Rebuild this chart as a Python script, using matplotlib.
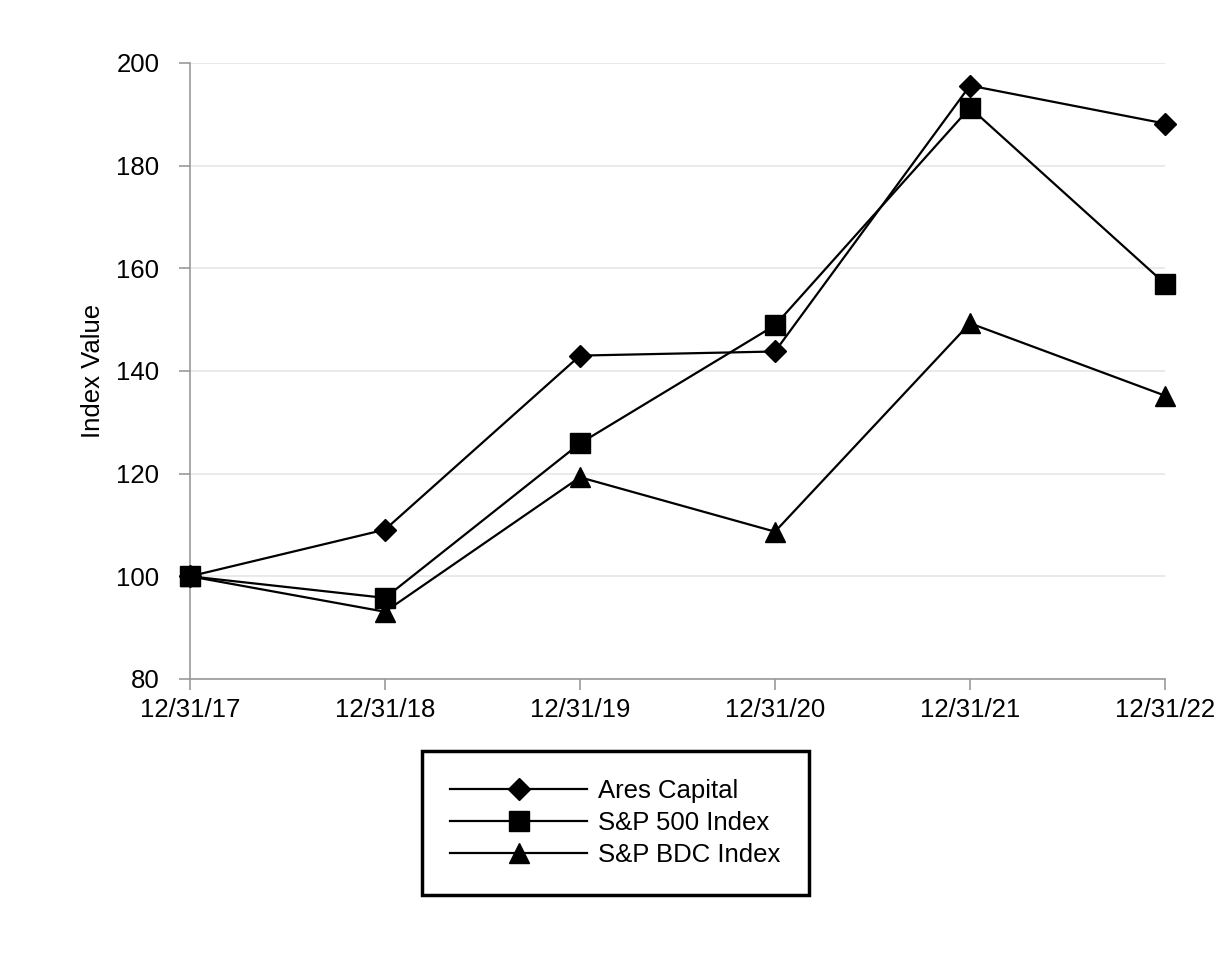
import matplotlib
matplotlib.use("Agg")
import matplotlib.pyplot as plt

plt.rcParams['font.family'] = ['Liberation Sans', 'DejaVu Sans']

fechas = ['12/31/17', '12/31/18', '12/31/19', '12/31/20', '12/31/21', '12/31/22']
ares = [100.0, 109.1, 143.0, 143.8, 195.6, 188.2]
sp500 = [100.0, 95.8, 125.9, 148.9, 191.3, 157.0]
bdc = [100.0, 93.1, 119.3, 108.7, 149.3, 135.2]
yticks = [80, 100, 120, 140, 160, 180, 200]

fs = 18.5

fig = plt.figure(figsize=(12.28, 9.6), dpi=100)
ax = fig.add_axes([190 / 1228, 1 - 679 / 960, (1165 - 190) / 1228, (679 - 63) / 960])

x = list(range(len(fechas)))
ax.plot(x, ares, color='black', lw=1.6, marker='D', markersize=11, clip_on=False,
        zorder=3, label='Ares Capital')
ax.plot(x, sp500, color='black', lw=1.6, marker='s', markersize=14.5, clip_on=False,
        zorder=3, label='S&P 500 Index')
ax.plot(x, bdc, color='black', lw=1.6, marker='^', markersize=14.5, clip_on=False,
        zorder=3, label='S&P BDC Index')

ax.set_xlim(0, len(fechas) - 1)
ax.set_ylim(80, 200)
ax.set_xticks(x)
ax.set_xticklabels(fechas, fontsize=fs)
ax.set_yticks(yticks)
ax.set_yticklabels([str(v) for v in yticks], fontsize=fs)
ax.set_ylabel('Index Value', fontsize=fs, labelpad=8)

ax.grid(axis='y', color='#e6e6e6', lw=1.2)
ax.set_axisbelow(True)
for s in ['top', 'right']:
    ax.spines[s].set_visible(False)
for s in ['left', 'bottom']:
    ax.spines[s].set_color('#999999')
    ax.spines[s].set_linewidth(1.2)
ax.tick_params(colors='#999999', length=8, width=1.2, labelcolor='black')
ax.tick_params(axis='y', pad=14)
ax.tick_params(axis='x', pad=6)

leg = fig.legend(loc='center', bbox_to_anchor=(615.5 / 1228, 1 - 823 / 960),
                 fontsize=fs, frameon=True, fancybox=False, framealpha=1,
                 handlelength=5.3, handletextpad=0.45, borderpad=1.1,
                 labelspacing=0.32, borderaxespad=0)
leg.get_frame().set_edgecolor('black')
leg.get_frame().set_linewidth(2.5)

fig.savefig('out.png', dpi=100)
